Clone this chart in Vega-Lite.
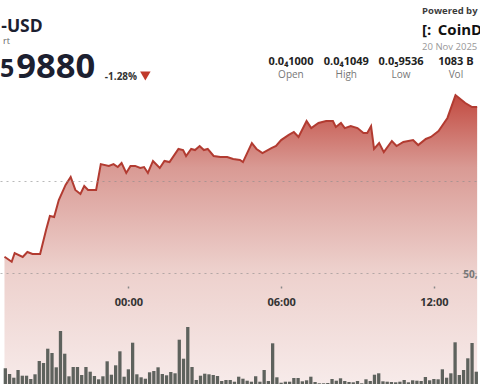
{
  "$schema": "https://vega.github.io/schema/vega-lite/v6.json",
  "width": 480,
  "height": 384,
  "autosize": {"type": "fit", "contains": "padding"},
  "padding": 0,
  "background": "white",
  "config": {"view": {"stroke": null}, "font": "Open Sans"},
  "datasets": {
    "price": [
      {"t": -292, "p": 9588}, {"t": -275, "p": 9561}, {"t": -268, "p": 9608}, {"t": -249, "p": 9587},
      {"t": -238, "p": 9614}, {"t": -226, "p": 9603}, {"t": -208, "p": 9603}, {"t": -194, "p": 9733},
      {"t": -185, "p": 9809}, {"t": -175, "p": 9803}, {"t": -164, "p": 9895}, {"t": -148, "p": 9977},
      {"t": -136, "p": 10020}, {"t": -125, "p": 9950}, {"t": -113, "p": 9928}, {"t": -104, "p": 9971},
      {"t": -95, "p": 9950}, {"t": -76, "p": 9950}, {"t": -65, "p": 10090}, {"t": -46, "p": 10080},
      {"t": -35, "p": 10090}, {"t": -25, "p": 10074}, {"t": -16, "p": 10096}, {"t": -5, "p": 10042},
      {"t": 5, "p": 10080}, {"t": 16, "p": 10080}, {"t": 28, "p": 10069}, {"t": 37, "p": 10074},
      {"t": 46, "p": 10042}, {"t": 58, "p": 10107}, {"t": 74, "p": 10069}, {"t": 85, "p": 10107},
      {"t": 97, "p": 10101}, {"t": 118, "p": 10172}, {"t": 129, "p": 10166}, {"t": 136, "p": 10134},
      {"t": 148, "p": 10172}, {"t": 157, "p": 10166}, {"t": 168, "p": 10188}, {"t": 178, "p": 10166},
      {"t": 187, "p": 10172}, {"t": 201, "p": 10134}, {"t": 217, "p": 10128}, {"t": 233, "p": 10128},
      {"t": 247, "p": 10118}, {"t": 263, "p": 10112}, {"t": 270, "p": 10101}, {"t": 291, "p": 10204},
      {"t": 302, "p": 10172}, {"t": 316, "p": 10150}, {"t": 337, "p": 10177}, {"t": 348, "p": 10188},
      {"t": 360, "p": 10220}, {"t": 378, "p": 10248}, {"t": 390, "p": 10264}, {"t": 401, "p": 10237},
      {"t": 420, "p": 10323}, {"t": 431, "p": 10285}, {"t": 448, "p": 10313}, {"t": 466, "p": 10323},
      {"t": 482, "p": 10323}, {"t": 489, "p": 10291}, {"t": 501, "p": 10313}, {"t": 510, "p": 10285},
      {"t": 524, "p": 10296}, {"t": 540, "p": 10285}, {"t": 554, "p": 10258}, {"t": 563, "p": 10258},
      {"t": 572, "p": 10296}, {"t": 579, "p": 10172}, {"t": 591, "p": 10204}, {"t": 602, "p": 10155},
      {"t": 621, "p": 10215}, {"t": 632, "p": 10188}, {"t": 648, "p": 10210}, {"t": 671, "p": 10220},
      {"t": 683, "p": 10193}, {"t": 701, "p": 10226}, {"t": 713, "p": 10237}, {"t": 731, "p": 10269},
      {"t": 752, "p": 10340}, {"t": 771, "p": 10464}, {"t": 794, "p": 10421}, {"t": 810, "p": 10399},
      {"t": 822, "p": 10399}
    ],
    "volume": [
      {"t": -290, "v": 15.7}, {"t": -280, "v": 10}, {"t": -270, "v": 6.3}, {"t": -260, "v": 14},
      {"t": -250, "v": 8.3}, {"t": -240, "v": 8.3}, {"t": -230, "v": 5}, {"t": -220, "v": 9.7},
      {"t": -210, "v": 23}, {"t": -200, "v": 21}, {"t": -190, "v": 35.3}, {"t": -180, "v": 31},
      {"t": -170, "v": 16.7}, {"t": -160, "v": 53}, {"t": -150, "v": 30.3}, {"t": -140, "v": 7.7},
      {"t": -130, "v": 17}, {"t": -120, "v": 17}, {"t": -110, "v": 9}, {"t": -100, "v": 17},
      {"t": -90, "v": 12.3}, {"t": -80, "v": 8}, {"t": -70, "v": 4.7}, {"t": -60, "v": 7.7},
      {"t": -50, "v": 22.7}, {"t": -40, "v": 9.3}, {"t": -30, "v": 18.7}, {"t": -20, "v": 32.7},
      {"t": -10, "v": 7.3}, {"t": 0, "v": 14.7}, {"t": 10, "v": 41.3}, {"t": 20, "v": 9.7},
      {"t": 30, "v": 6.7}, {"t": 40, "v": 5.3}, {"t": 50, "v": 11.7}, {"t": 60, "v": 13},
      {"t": 70, "v": 16.7}, {"t": 80, "v": 10}, {"t": 90, "v": 8.7}, {"t": 100, "v": 12},
      {"t": 110, "v": 10.7}, {"t": 120, "v": 44.3}, {"t": 130, "v": 25.3}, {"t": 140, "v": 57},
      {"t": 150, "v": 17}, {"t": 160, "v": 4}, {"t": 170, "v": 8.3}, {"t": 180, "v": 10.3},
      {"t": 190, "v": 9.7}, {"t": 200, "v": 9}, {"t": 210, "v": 8}, {"t": 220, "v": 3},
      {"t": 230, "v": 4}, {"t": 240, "v": 4}, {"t": 250, "v": 2.3}, {"t": 260, "v": 7.3},
      {"t": 270, "v": 5.3}, {"t": 280, "v": 3.3}, {"t": 290, "v": 2.3}, {"t": 300, "v": 7.7},
      {"t": 310, "v": 2.3}, {"t": 320, "v": 14}, {"t": 330, "v": 3}, {"t": 340, "v": 40.7},
      {"t": 350, "v": 6.7}, {"t": 360, "v": 1.3}, {"t": 370, "v": 2.3}, {"t": 380, "v": 2.3},
      {"t": 390, "v": 6}, {"t": 400, "v": 6}, {"t": 410, "v": 2.7}, {"t": 420, "v": 3.7},
      {"t": 430, "v": 7.3}, {"t": 440, "v": 2}, {"t": 450, "v": 0.7}, {"t": 460, "v": 0.7},
      {"t": 470, "v": 1}, {"t": 480, "v": 5}, {"t": 490, "v": 3.3}, {"t": 500, "v": 5.7},
      {"t": 510, "v": 3}, {"t": 520, "v": 2}, {"t": 530, "v": 1.7}, {"t": 540, "v": 3},
      {"t": 550, "v": 0.7}, {"t": 560, "v": 4.7}, {"t": 570, "v": 3}, {"t": 580, "v": 9.3},
      {"t": 590, "v": 10.7}, {"t": 600, "v": 2.7}, {"t": 610, "v": 2.3}, {"t": 620, "v": 2},
      {"t": 630, "v": 1.7}, {"t": 640, "v": 2.3}, {"t": 650, "v": 4}, {"t": 660, "v": 1.7},
      {"t": 670, "v": 3.7}, {"t": 680, "v": 3.3}, {"t": 690, "v": 3}, {"t": 700, "v": 7},
      {"t": 710, "v": 3.7}, {"t": 720, "v": 5}, {"t": 730, "v": 4.7}, {"t": 740, "v": 14.7},
      {"t": 750, "v": 6.3}, {"t": 760, "v": 10.7}, {"t": 770, "v": 41.7}, {"t": 780, "v": 9},
      {"t": 790, "v": 14}, {"t": 800, "v": 25.7}, {"t": 810, "v": 41}, {"t": 820, "v": 12.3}
    ]
  },
  "layer": [
    {
      "layer": [
        {
          "data": {"name": "price"},
          "mark": {
            "type": "area",
            "clip": true,
            "color": {
              "gradient": "linear", "x1": 0, "y1": 0, "x2": 0, "y2": 1,
              "stops": [
                {"offset": 0, "color": "#c24a40"},
                {"offset": 0.25, "color": "#d99a94"},
                {"offset": 0.6, "color": "#edd0cc"},
                {"offset": 1, "color": "#f7ebea"}
              ]
            }
          },
          "encoding": {
            "x": {
              "field": "t", "type": "quantitative",
              "scale": {"domain": [-290.77, 816.92], "nice": false, "zero": false},
              "axis": {
                "values": [0, 360, 720],
                "labelExpr": "datum.value == 0 ? '00:00' : datum.value == 360 ? '06:00' : '12:00'",
                "offset": -98, "domain": false, "grid": false,
                "tickSize": 2, "tickColor": "#888", "tickWidth": 1.5,
                "labelFontSize": 11, "labelFontWeight": "bold", "labelColor": "#333",
                "labelPadding": 8, "title": null, "zindex": 1
              }
            },
            "y": {
              "field": "p", "type": "quantitative",
              "scale": {"domain": [8898.7, 10978.9], "nice": false, "zero": false},
              "axis": {
                "values": [9500, 10000], "labels": false, "ticks": false, "domain": false,
                "grid": true, "gridDash": [2, 4], "gridColor": "#8a8a8a", "gridOpacity": 0.6,
                "title": null, "zindex": 1
              }
            },
            "y2": {"datum": 8890}
          }
        },
        {
          "data": {"name": "price"},
          "mark": {"type": "line", "clip": true, "color": "#b23b31", "strokeWidth": 2},
          "encoding": {
            "x": {"field": "t", "type": "quantitative", "title": null},
            "y": {"field": "p", "type": "quantitative", "title": null}
          }
        },
        {
          "data": {"values": [{}]},
          "mark": {"type": "text", "text": "-USD", "align": "right", "baseline": "alphabetic", "fontSize": 17.5, "fontWeight": "bold", "color": "#1c2030"},
          "encoding": {"x": {"datum": -201.9, "type": "quantitative"}, "y": {"datum": 10808, "type": "quantitative"}}
        },
        {
          "data": {"values": [{}]},
          "mark": {"type": "text", "text": "rt", "align": "right", "baseline": "alphabetic", "fontSize": 9, "color": "#666"},
          "encoding": {"x": {"datum": -279.2, "type": "quantitative"}, "y": {"datum": 10740.5, "type": "quantitative"}}
        },
        {
          "data": {"values": [{}]},
          "mark": {"type": "text", "text": "5", "align": "right", "baseline": "alphabetic", "fontSize": 25, "fontWeight": "bold", "color": "#1c2030"},
          "encoding": {"x": {"datum": -268.8, "type": "quantitative"}, "y": {"datum": 10561.7, "type": "quantitative"}}
        },
        {
          "data": {"values": [{}]},
          "mark": {"type": "text", "text": "9880", "align": "left", "baseline": "alphabetic", "fontSize": 34.5, "fontWeight": "bold", "color": "#1c2030"},
          "encoding": {"x": {"datum": -264.2, "type": "quantitative"}, "y": {"datum": 10556.3, "type": "quantitative"}}
        },
        {
          "data": {"values": [{}]},
          "mark": {"type": "text", "text": "-1.28%", "align": "left", "baseline": "alphabetic", "fontSize": 10, "fontWeight": "bold", "color": "#333"},
          "encoding": {"x": {"datum": -55.4, "type": "quantitative"}, "y": {"datum": 10545.5, "type": "quantitative"}}
        },
        {
          "data": {"values": [{}]},
          "mark": {"type": "point", "shape": "triangle-down", "filled": true, "opacity": 1, "color": "#c0392b", "size": 110},
          "encoding": {"x": {"datum": 40, "type": "quantitative"}, "y": {"datum": 10567, "type": "quantitative"}}
        },
        {
          "data": {"values": [{}]},
          "mark": {"type": "text", "text": "Powered by", "align": "left", "baseline": "alphabetic", "fontSize": 9.5, "fontWeight": "bold", "color": "#3d3d3d", "clip": true},
          "encoding": {"x": {"datum": 692.3, "type": "quantitative"}, "y": {"datum": 10903, "type": "quantitative"}}
        },
        {
          "data": {"values": [{}]},
          "mark": {"type": "text", "text": "[:", "align": "left", "baseline": "alphabetic", "fontSize": 15, "fontWeight": "bold", "color": "#111", "clip": true},
          "encoding": {"x": {"datum": 692.3, "type": "quantitative"}, "y": {"datum": 10789.3, "type": "quantitative"}}
        },
        {
          "data": {"values": [{}]},
          "mark": {"type": "text", "text": "CoinDesk", "align": "left", "baseline": "alphabetic", "fontSize": 15, "fontWeight": "bold", "color": "#111", "clip": true},
          "encoding": {"x": {"datum": 729.2, "type": "quantitative"}, "y": {"datum": 10789.3, "type": "quantitative"}}
        },
        {
          "data": {"values": [{}]},
          "mark": {"type": "text", "text": "20 Nov 2025", "align": "left", "baseline": "alphabetic", "fontSize": 9.5, "color": "#999", "clip": true},
          "encoding": {"x": {"datum": 692.3, "type": "quantitative"}, "y": {"datum": 10708, "type": "quantitative"}}
        },
        {
          "data": {"values": [{}]},
          "mark": {"type": "text", "text": "0.0₄1000", "align": "center", "baseline": "alphabetic", "fontSize": 11, "fontWeight": "bold", "color": "#222"},
          "encoding": {"x": {"datum": 383.1, "type": "quantitative"}, "y": {"datum": 10626.7, "type": "quantitative"}}
        },
        {
          "data": {"values": [{}]},
          "mark": {"type": "text", "text": "0.0₄1049", "align": "center", "baseline": "alphabetic", "fontSize": 11, "fontWeight": "bold", "color": "#222"},
          "encoding": {"x": {"datum": 513.5, "type": "quantitative"}, "y": {"datum": 10626.7, "type": "quantitative"}}
        },
        {
          "data": {"values": [{}]},
          "mark": {"type": "text", "text": "0.0₅9536", "align": "center", "baseline": "alphabetic", "fontSize": 11, "fontWeight": "bold", "color": "#222"},
          "encoding": {"x": {"datum": 642.7, "type": "quantitative"}, "y": {"datum": 10626.7, "type": "quantitative"}}
        },
        {
          "data": {"values": [{}]},
          "mark": {"type": "text", "text": "1083 B", "align": "center", "baseline": "alphabetic", "fontSize": 11, "fontWeight": "bold", "color": "#222", "clip": true},
          "encoding": {"x": {"datum": 771.9, "type": "quantitative"}, "y": {"datum": 10626.7, "type": "quantitative"}}
        },
        {
          "data": {"values": [{}]},
          "mark": {"type": "text", "text": "Open", "align": "center", "baseline": "alphabetic", "fontSize": 10, "color": "#777"},
          "encoding": {"x": {"datum": 383.1, "type": "quantitative"}, "y": {"datum": 10556.3, "type": "quantitative"}}
        },
        {
          "data": {"values": [{}]},
          "mark": {"type": "text", "text": "High", "align": "center", "baseline": "alphabetic", "fontSize": 10, "color": "#777"},
          "encoding": {"x": {"datum": 513.5, "type": "quantitative"}, "y": {"datum": 10556.3, "type": "quantitative"}}
        },
        {
          "data": {"values": [{}]},
          "mark": {"type": "text", "text": "Low", "align": "center", "baseline": "alphabetic", "fontSize": 10, "color": "#777"},
          "encoding": {"x": {"datum": 642.7, "type": "quantitative"}, "y": {"datum": 10556.3, "type": "quantitative"}}
        },
        {
          "data": {"values": [{}]},
          "mark": {"type": "text", "text": "Vol", "align": "center", "baseline": "alphabetic", "fontSize": 10, "color": "#777"},
          "encoding": {"x": {"datum": 771.9, "type": "quantitative"}, "y": {"datum": 10556.3, "type": "quantitative"}}
        },
        {
          "data": {"values": [{}]},
          "mark": {"type": "text", "text": "50,", "align": "left", "baseline": "alphabetic", "fontSize": 10, "fontWeight": "bold", "color": "#777", "clip": true},
          "encoding": {"x": {"datum": 789.2, "type": "quantitative"}, "y": {"datum": 9475.6, "type": "quantitative"}}
        }
      ]
    },
    {
      "data": {"name": "volume"},
      "mark": {"type": "bar", "width": 3.3, "color": "#5e625d", "clip": true},
      "encoding": {
        "x": {"field": "t", "type": "quantitative", "title": null, "scale": {"domain": [-290.77, 816.92], "nice": false, "zero": false}},
        "y": {"field": "v", "type": "quantitative", "scale": {"domain": [0, 384], "nice": false}, "axis": null}
      }
    }
  ],
  "resolve": {"scale": {"y": "independent"}}
}
